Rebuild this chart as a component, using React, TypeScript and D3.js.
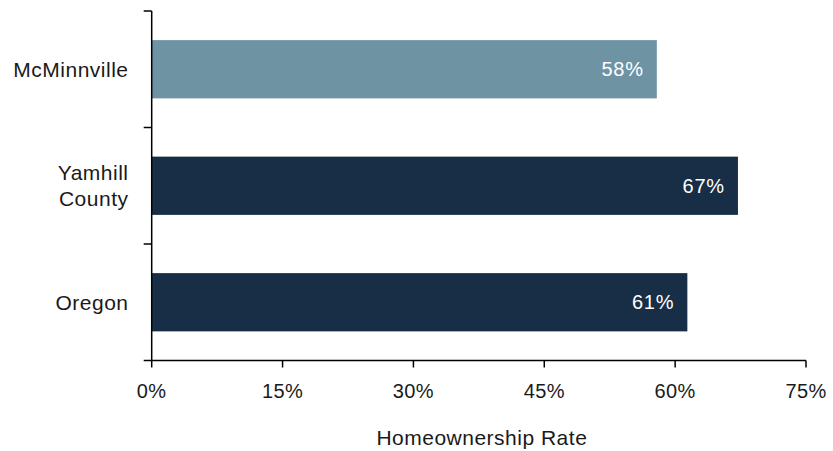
import React from "react";
import * as d3 from "d3";

const categories: string[][] = [["McMinnville"], ["Yamhill", "County"], ["Oregon"]];
const values: number[] = [57.9, 67.2, 61.4];
const barColors: string[] = ["#6E93A3", "#172E46", "#172E46"];
const xTicks: number[] = [0, 15, 30, 45, 60, 75];
const xTitle = "Homeownership Rate";

const W = 833;
const H = 451;
const left = 151.7;
const right = 806;
const top = 11;
const bottom = 360.5;
const font = "'Liberation Sans', Arial, sans-serif";

export default function App() {
  const x = d3.scaleLinear().domain([0, 75]).range([left, right]);
  const y = d3
    .scaleBand<number>()
    .domain(d3.range(categories.length))
    .range([top, bottom])
    .paddingInner(0.5)
    .paddingOuter(0.25);
  const step = y.step();
  const boundaries = d3.range(categories.length + 1).map((i) => top + i * step);

  return (
    <div style={{ position: "fixed", left: 0, top: 0, width: W, height: H, background: "#fff" }}>
      <svg width={W} height={H} style={{ display: "block" }}>
        {values.map((v, i) => (
          <g key={i}>
            <rect
              x={x(0)}
              y={y(i)}
              width={x(v) - x(0)}
              height={y.bandwidth()}
              fill={barColors[i]}
            />
            <text
              x={x(v) - 13}
              y={(y(i) as number) + y.bandwidth() / 2}
              dy="0.35em"
              textAnchor="end"
              fill="#fff"
              fontFamily={font}
              fontSize={20}
              letterSpacing={0.8}
            >
              {`${Math.round(v)}%`}
            </text>
            <text
              x={128.5}
              textAnchor="end"
              fontFamily={font}
              fontSize={21}
              letterSpacing={0.5}
              fill="#1a1a1a"
            >
              {categories[i].map((line, j) => (
                <tspan
                  key={j}
                  x={128.5}
                  y={(y(i) as number) + y.bandwidth() / 2 + (j - (categories[i].length - 1) / 2) * 26.5}
                  dy="0.35em"
                >
                  {line}
                </tspan>
              ))}
            </text>
          </g>
        ))}
        {/* y axis */}
        <line x1={left} x2={left} y1={top} y2={bottom} stroke="#000" strokeWidth={1.5} />
        {boundaries.map((b, i) => (
          <line key={i} x1={left - 8} x2={left} y1={b} y2={b} stroke="#000" strokeWidth={1.5} />
        ))}
        {/* x axis */}
        <line x1={left} x2={right} y1={bottom} y2={bottom} stroke="#000" strokeWidth={1.5} />
        {xTicks.map((t) => (
          <g key={t}>
            <line x1={x(t)} x2={x(t)} y1={bottom} y2={bottom + 7} stroke="#000" strokeWidth={1.5} />
            <text
              x={x(t)}
              y={bottom + 30}
              dy="0.35em"
              textAnchor="middle"
              fontFamily={font}
              fontSize={20}
              letterSpacing={0.4}
              fill="#1a1a1a"
            >
              {`${t}%`}
            </text>
          </g>
        ))}
        <text
          x={(left + right) / 2 + 3}
          y={437.5}
          dy="0.35em"
          textAnchor="middle"
          fontFamily={font}
          fontSize={21}
          letterSpacing={0.5}
          fill="#1a1a1a"
        >
          {xTitle}
        </text>
      </svg>
    </div>
  );
}
